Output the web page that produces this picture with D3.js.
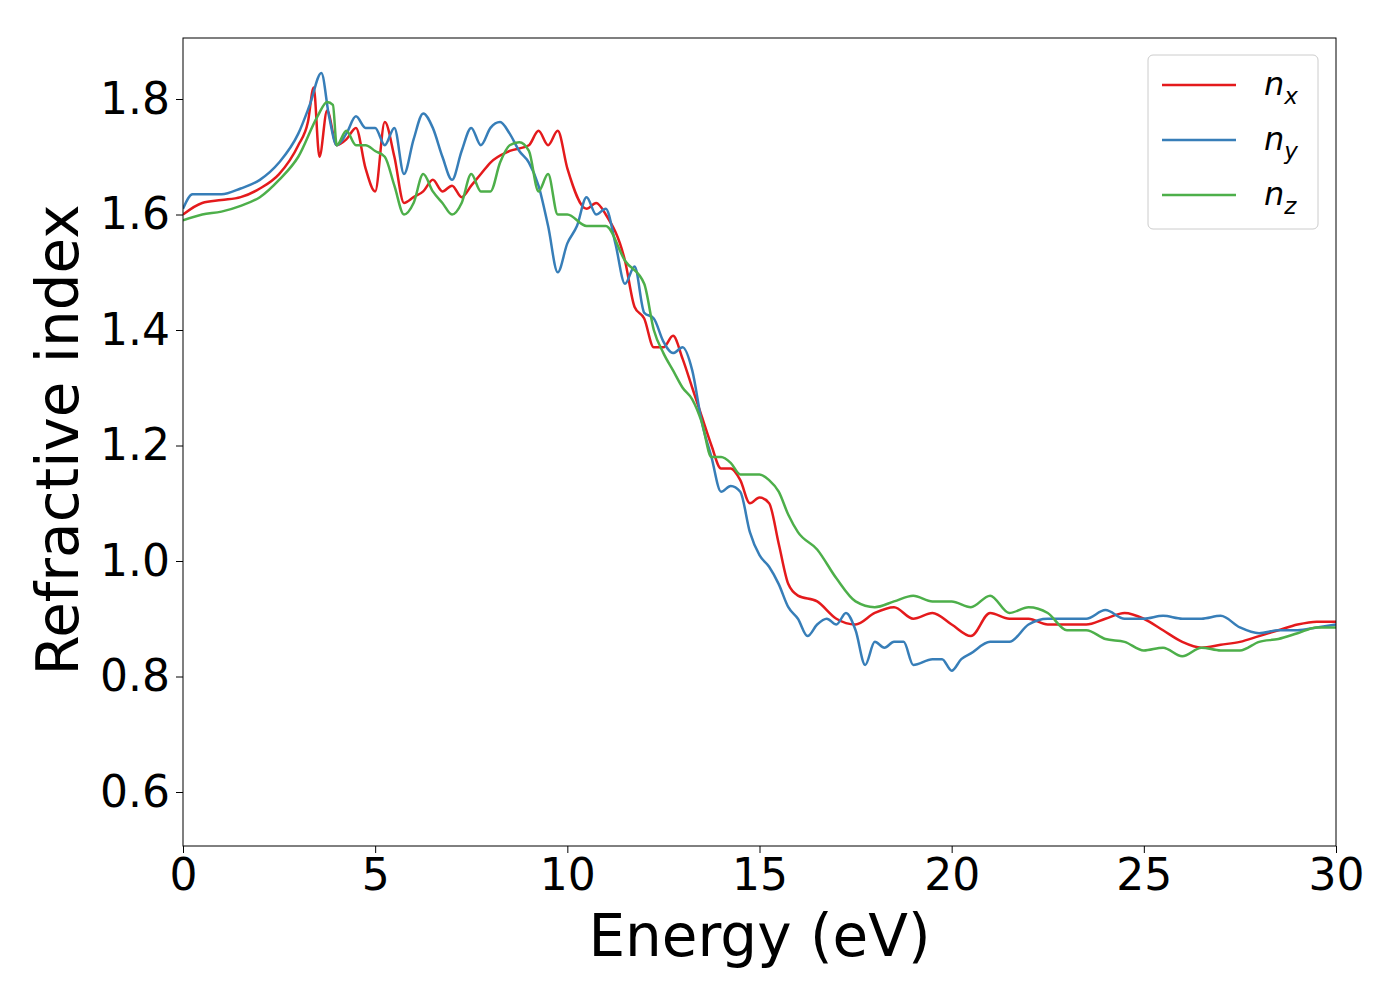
<!DOCTYPE html><html><head><meta charset="utf-8">
<script src="https://cdn.jsdelivr.net/npm/d3@7"></script>
<style>body{margin:0;background:#fff}text{font-family:"DejaVu Sans",sans-serif}</style></head><body>
<svg id="c" width="1400" height="1000"></svg>
<script>
const xTicks=[0,5,10,15,20,25,30];
const yTicks=[0.6,0.8,1.0,1.2,1.4,1.6,1.8];
const nx=[[0,1.60],[0.5,1.62],[1,1.625],[1.5,1.63],[2,1.645],[2.5,1.67],[3,1.72],[3.25,1.76],[3.4,1.82],[3.55,1.70],[3.75,1.78],[4,1.72],[4.25,1.73],[4.5,1.75],[4.75,1.68],[5,1.64],[5.25,1.76],[5.5,1.70],[5.75,1.62],[6,1.63],[6.25,1.64],[6.5,1.66],[6.75,1.64],[7,1.65],[7.25,1.63],[7.5,1.65],[7.75,1.67],[8,1.69],[8.5,1.71],[9,1.72],[9.25,1.745],[9.5,1.72],[9.75,1.745],[10,1.68],[10.5,1.61],[10.75,1.62],[11,1.60],[11.5,1.52],[11.75,1.44],[12,1.42],[12.25,1.37],[12.5,1.37],[12.75,1.39],[13,1.35],[13.25,1.30],[13.5,1.25],[13.75,1.20],[14,1.16],[14.25,1.16],[14.5,1.14],[14.75,1.10],[15,1.11],[15.25,1.10],[15.5,1.03],[15.75,0.96],[16,0.94],[16.5,0.93],[17,0.90],[17.5,0.89],[18,0.91],[18.5,0.92],[19,0.90],[19.5,0.91],[20,0.89],[20.5,0.87],[21,0.91],[21.5,0.90],[22,0.90],[22.5,0.89],[23,0.89],[23.5,0.89],[24,0.90],[24.5,0.91],[25,0.90],[25.5,0.88],[26,0.86],[26.5,0.85],[27,0.855],[27.5,0.86],[28,0.87],[28.5,0.88],[29,0.89],[29.5,0.895],[30,0.895]];
const ny=[[0,1.61],[0.25,1.635],[1,1.635],[1.5,1.645],[2,1.66],[2.5,1.69],[3,1.74],[3.3,1.79],[3.6,1.845],[3.8,1.77],[4,1.72],[4.25,1.74],[4.5,1.77],[4.75,1.75],[5,1.75],[5.25,1.72],[5.5,1.75],[5.75,1.67],[6,1.73],[6.25,1.775],[6.5,1.75],[6.75,1.70],[7,1.66],[7.25,1.71],[7.5,1.75],[7.75,1.72],[8,1.75],[8.25,1.76],[8.5,1.74],[8.75,1.71],[9,1.69],[9.25,1.65],[9.5,1.58],[9.75,1.50],[10,1.55],[10.25,1.58],[10.5,1.63],[10.75,1.60],[11,1.61],[11.25,1.55],[11.5,1.48],[11.75,1.51],[12,1.43],[12.25,1.42],[12.5,1.38],[12.75,1.36],[13,1.37],[13.25,1.33],[13.5,1.24],[13.75,1.18],[14,1.12],[14.25,1.13],[14.5,1.12],[14.75,1.05],[15,1.01],[15.25,0.99],[15.5,0.96],[15.75,0.92],[16,0.90],[16.25,0.87],[16.5,0.89],[16.75,0.90],[17,0.89],[17.25,0.91],[17.5,0.88],[17.75,0.82],[18,0.86],[18.25,0.85],[18.5,0.86],[18.75,0.86],[19,0.82],[19.5,0.83],[19.75,0.83],[20,0.81],[20.25,0.83],[20.5,0.84],[21,0.86],[21.5,0.86],[22,0.89],[22.5,0.90],[23,0.90],[23.5,0.90],[24,0.915],[24.5,0.90],[25,0.90],[25.5,0.905],[26,0.90],[26.5,0.90],[27,0.905],[27.5,0.885],[28,0.875],[28.5,0.88],[29,0.88],[29.5,0.885],[30,0.89]];
const nz=[[0,1.59],[0.5,1.60],[1,1.605],[1.5,1.615],[2,1.63],[2.5,1.66],[3,1.70],[3.5,1.77],[3.75,1.795],[3.9,1.79],[4,1.72],[4.25,1.745],[4.5,1.72],[4.75,1.72],[5,1.71],[5.25,1.70],[5.5,1.65],[5.75,1.60],[6,1.62],[6.25,1.67],[6.5,1.64],[6.75,1.62],[7,1.60],[7.25,1.62],[7.5,1.67],[7.75,1.64],[8,1.64],[8.25,1.69],[8.5,1.72],[8.75,1.725],[9,1.71],[9.25,1.64],[9.5,1.67],[9.75,1.60],[10,1.60],[10.5,1.58],[11,1.58],[11.5,1.52],[12,1.48],[12.25,1.40],[12.5,1.36],[12.75,1.33],[13,1.30],[13.25,1.28],[13.5,1.24],[13.75,1.18],[14,1.18],[14.25,1.17],[14.5,1.15],[14.75,1.15],[15,1.15],[15.25,1.14],[15.5,1.12],[15.75,1.08],[16,1.05],[16.5,1.02],[17,0.97],[17.5,0.93],[18,0.92],[18.5,0.93],[19,0.94],[19.5,0.93],[20,0.93],[20.5,0.92],[21,0.94],[21.5,0.91],[22,0.92],[22.5,0.91],[23,0.88],[23.5,0.88],[24,0.865],[24.5,0.86],[25,0.845],[25.5,0.85],[26,0.835],[26.5,0.85],[27,0.845],[27.5,0.845],[28,0.86],[28.5,0.865],[29,0.875],[29.5,0.885],[30,0.885]];
const series=[{n:"x",d:nx,c:"#e41a1c"},{n:"y",d:ny,c:"#377eb8"},{n:"z",d:nz,c:"#4daf4a"}];
const svg=d3.select("#c");
const L=183,R=1336,T=38,B=846;
const x=d3.scaleLinear().domain([0,30]).range([L,R]);
const y=d3.scaleLinear().domain([0.6,1.8]).range([792,99]);
y.domain([y.invert(B),y.invert(T)]).range([B,T]);
svg.append("defs").append("clipPath").attr("id","cl").append("rect").attr("x",L).attr("y",T).attr("width",R-L).attr("height",B-T);
const line=d3.line().x(d=>x(d[0])).y(d=>y(d[1])).curve(d3.curveMonotoneX);
series.forEach(s=>svg.append("path").attr("d",line(s.d)).attr("fill","none").attr("stroke",s.c).attr("stroke-width",2.5).attr("clip-path","url(#cl)"));
svg.append("rect").attr("x",L).attr("y",T).attr("width",R-L).attr("height",B-T).attr("fill","none").attr("stroke","#000").attr("stroke-width",1);
const ax=svg.append("g").attr("transform",`translate(0,${B})`).call(d3.axisBottom(x).tickValues(xTicks).tickFormat(d3.format("d")).tickSize(7).tickPadding(6));
const ay=svg.append("g").attr("transform",`translate(${L},0)`).call(d3.axisLeft(y).tickValues(yTicks).tickFormat(d3.format(".1f")).tickSize(7).tickPadding(6));
[ax,ay].forEach(a=>{a.select(".domain").remove();a.selectAll("text").style("font-size","44px").attr("fill","#000");a.selectAll("line").attr("stroke","#000");});
svg.append("text").attr("x",(L+R)/2).attr("y",956).attr("text-anchor","middle").style("font-size","58px").text("Energy (eV)");
svg.append("text").attr("transform",`translate(78,${(T+B)/2-2}) rotate(-90)`).attr("text-anchor","middle").style("font-size","58px").text("Refractive index");
const lg=svg.append("g");
lg.append("rect").attr("x",1148).attr("y",55).attr("width",170).attr("height",174).attr("rx",5).attr("fill","#fff").attr("stroke","#ccc");
series.forEach((s,i)=>{const yy=85+i*55;
lg.append("line").attr("x1",1162).attr("x2",1236).attr("y1",yy).attr("y2",yy).attr("stroke",s.c).attr("stroke-width",2.5);
const t=lg.append("text").attr("x",1264).attr("y",yy+10).style("font-size","32px").style("font-style","italic").text("n");
t.append("tspan").attr("dy",9).style("font-size","23px").text(s.n);});
</script></body></html>
